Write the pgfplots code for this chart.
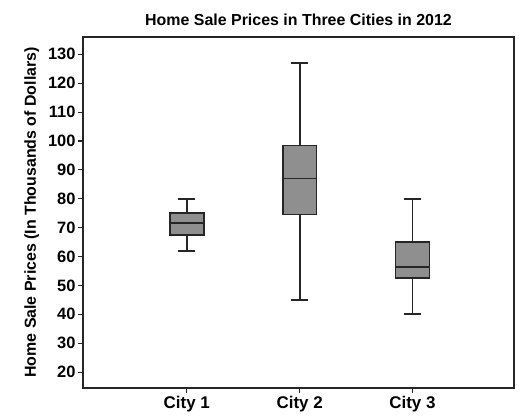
\documentclass[border=0pt]{standalone}
\usepackage{pgfplots}
\pgfplotsset{compat=1.18}
\usepgfplotslibrary{statistics}
\usepackage{fontspec}
\setmainfont{Liberation Sans}
\begin{document}
\begin{tikzpicture}
\path[use as bounding box] (-83bp,-32bp) rectangle (438bp,388bp);
\begin{axis}[
  at={(0,0)}, anchor=south west,
  scale only axis, width=431bp, height=351bp,
  xmin=0.08, xmax=3.9, ymin=14.5, ymax=136,
  xtick={1,2,3}, xticklabels={City 1, City 2, City 3},
  ytick={20,30,...,130},
  tick pos=left,
  tick align=outside, major tick length=5bp,
  tick style={line width=1.1pt, black!85},
  axis line style={line width=1.8pt, black!85},
  /pgf/number format/assume math mode=true,
  yticklabel style={font=\fontsize{16.5}{16.5}\selectfont\bfseries, xshift=1bp},
  xticklabel style={font=\fontsize{17}{17}\selectfont\bfseries},
  ylabel={Home Sale Prices (In Thousands of Dollars)},
  ylabel style={font=\fontsize{16}{16}\selectfont\bfseries, yshift=2bp},
  title={Home Sale Prices in Three Cities in 2012},
  title style={font=\fontsize{16}{16}\selectfont\bfseries, at={(0.5,1)}, anchor=south, yshift=2bp},
  boxplot/draw direction=y,
  boxplot/box extend=0.3,
  boxplot/whisker extend=0.15,
  boxplot/every box/.style={draw=black!85, line width=1.6pt, fill=gray!88},
  boxplot/every whisker/.style={draw=black!85, line width=1.8pt},
  boxplot/every median/.style={draw=black!85, line width=1.8pt},
]
\addplot+[boxplot prepared={draw position=1, lower whisker=62, lower quartile=67.5, median=71.5, upper quartile=75, upper whisker=80},
  draw=black!85, line width=1.6pt, fill=gray!88, mark=none, solid] coordinates {};
\addplot+[boxplot prepared={draw position=2, lower whisker=45, lower quartile=74.5, median=87, upper quartile=98.5, upper whisker=127},
  draw=black!85, line width=1.6pt, fill=gray!88, mark=none, solid] coordinates {};
\addplot+[boxplot prepared={draw position=3, lower whisker=40, lower quartile=52.5, median=56.5, upper quartile=65, upper whisker=80},
  draw=black!85, line width=1.6pt, fill=gray!88, mark=none, solid] coordinates {};
\end{axis}
\end{tikzpicture}
\end{document}
